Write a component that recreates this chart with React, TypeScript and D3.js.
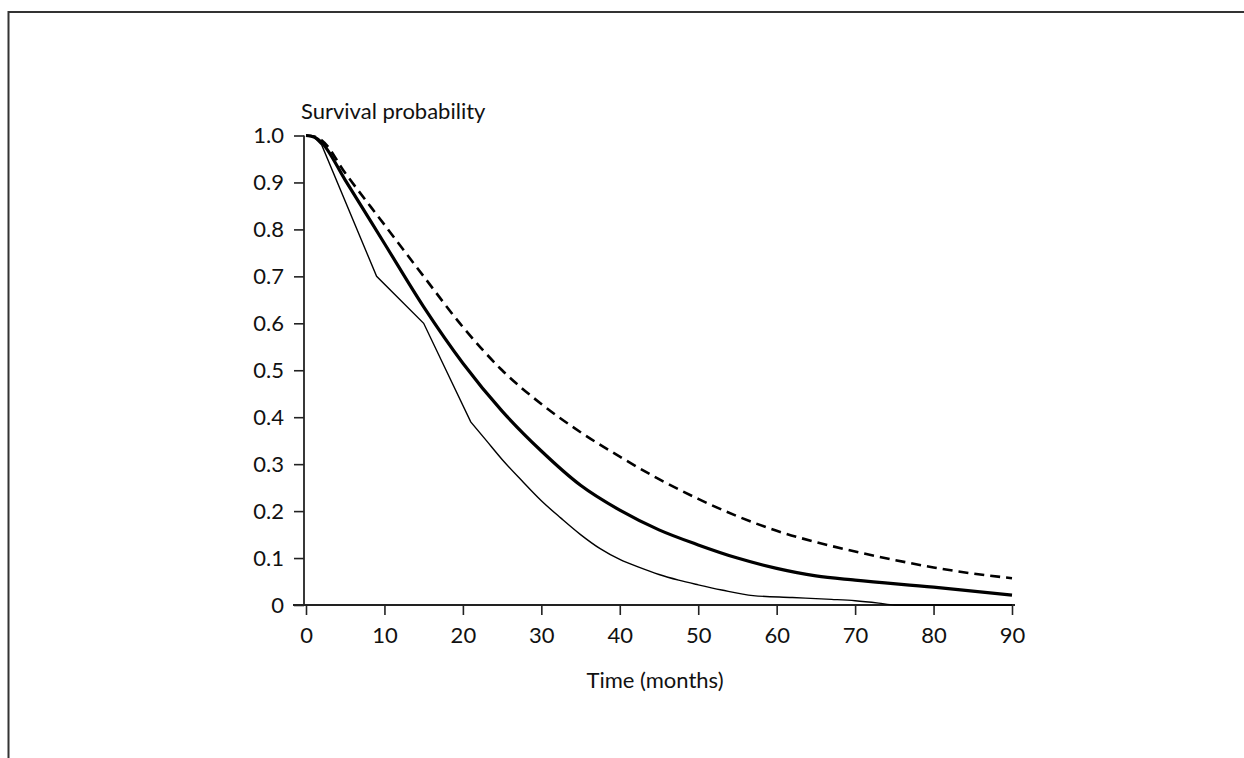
import React, { useRef, useEffect } from "react";
import * as d3 from "d3";

// survival curves (months, probability)
const thinMonths = [0, 1, 2, 9, 15, 21, 23, 25, 27.5, 30, 32.5, 35, 37.5, 40, 42.5, 45, 47.5, 50, 53, 57, 62, 67, 70, 73, 75, 90];
const thinValues = [1, 0.997, 0.98, 0.7, 0.6, 0.39, 0.35, 0.31, 0.265, 0.222, 0.185, 0.15, 0.12, 0.097, 0.08, 0.065, 0.053, 0.043, 0.032, 0.02, 0.016, 0.012, 0.009, 0.004, 0, 0];
// the thin curve is piecewise straight up to 21 months, smooth after
const thinBreak = 5;

const thickMonths = [0, 1, 2, 5, 10, 15, 20, 25, 30, 35, 40, 45, 50, 55, 60, 65, 70, 80, 90];
const thickValues = [1, 0.997, 0.985, 0.905, 0.77, 0.635, 0.515, 0.413, 0.328, 0.255, 0.202, 0.16, 0.128, 0.1, 0.078, 0.062, 0.053, 0.038, 0.021];

const dashMonths = [0, 1, 2, 5, 10, 15, 20, 25, 30, 35, 40, 45, 50, 55, 60, 65, 70, 75, 80, 85, 90];
const dashValues = [1, 0.998, 0.99, 0.92, 0.81, 0.7, 0.592, 0.5, 0.428, 0.368, 0.316, 0.268, 0.226, 0.189, 0.158, 0.134, 0.114, 0.096, 0.08, 0.067, 0.057];

const xTicks = [0, 10, 20, 30, 40, 50, 60, 70, 80, 90];
const yTicks = [0, 0.1, 0.2, 0.3, 0.4, 0.5, 0.6, 0.7, 0.8, 0.9, 1.0];

const FONT = "Lato, 'Open Sans', sans-serif";
const FONT_SIZE = 22;

const SurvivalChart = () => {
  const svgRef = useRef<SVGSVGElement>(null);

  useEffect(() => {
    const svg = d3.select(svgRef.current);
    svg.selectAll("*").remove();

    const x = d3.scaleLinear().domain([0, 90]).range([306, 1012]);
    const y = d3.scaleLinear().domain([0, 1]).range([605, 135.5]);
    const axisColor = "#222";

    // frame (top and left edges only show)
    svg.append("path")
      .attr("d", "M8.5,1000 V12 H1300")
      .attr("fill", "none")
      .attr("stroke", "#333")
      .attr("stroke-width", 2);

    // y axis
    const gy = svg.append("g").attr("transform", "translate(304,0)");
    gy.call(d3.axisLeft(y).tickValues(yTicks).tickSize(10).tickPadding(10)
      .tickFormat((d) => (+d === 0 ? "0" : d3.format(".1f")(+d))));
    gy.select(".domain").attr("d", `M0,${y(1)}V${y(0)}`);

    // x axis
    const gx = svg.append("g").attr("transform", "translate(0,605)");
    gx.call(d3.axisBottom(x).tickValues(xTicks).tickSize(10).tickPadding(12).tickFormat(d3.format("d")));
    gx.select(".domain").attr("d", "M293,0H1015");

    svg.selectAll(".domain").attr("stroke", axisColor).attr("stroke-width", 1.8);
    svg.selectAll(".tick line").attr("stroke", axisColor).attr("stroke-width", 1.6);
    svg.selectAll(".tick text")
      .attr("font-family", FONT)
      .attr("font-size", FONT_SIZE)
      .attr("fill", "#111");
    gy.selectAll(".tick text").attr("x", -20);

    svg.append("text")
      .attr("x", 301)
      .attr("y", 119)
      .attr("font-family", FONT)
      .attr("font-size", FONT_SIZE)
      .attr("fill", "#111")
      .text("Survival probability");

    svg.append("text")
      .attr("x", 655)
      .attr("y", 688)
      .attr("text-anchor", "middle")
      .attr("font-family", FONT)
      .attr("font-size", FONT_SIZE)
      .attr("fill", "#111")
      .text("Time (months)");

    const thinPts: [number, number][] = thinMonths.map((m, i) => [x(m), y(thinValues[i])]);
    const straight = d3.line();
    const curved = d3.line().curve(d3.curveMonotoneX);
    const thinPath = straight(thinPts.slice(0, thinBreak + 1))! + curved(thinPts.slice(thinBreak))!.replace(/^M/, "L");

    svg.append("path")
      .attr("d", thinPath)
      .attr("fill", "none")
      .attr("stroke", "#000")
      .attr("stroke-width", 1.4);

    const smooth = d3.line<number>()
      .x((d) => x(d))
      .curve(d3.curveMonotoneX);

    svg.append("path")
      .attr("d", smooth.y((d, i) => y(thickValues[i]))(thickMonths))
      .attr("fill", "none")
      .attr("stroke", "#000")
      .attr("stroke-width", 3.2);

    svg.append("path")
      .attr("d", smooth.y((d, i) => y(dashValues[i]))(dashMonths))
      .attr("fill", "none")
      .attr("stroke", "#000")
      .attr("stroke-width", 2.6)
      .attr("stroke-dasharray", "10,6");

    return () => {};
  }, []);

  return (
    <svg
      ref={svgRef}
      width={1244}
      height={758}
      style={{ position: "absolute", left: 0, top: 0, display: "block", background: "#fff" }}
    />
  );
};

export default function App() {
  return <SurvivalChart />;
}
